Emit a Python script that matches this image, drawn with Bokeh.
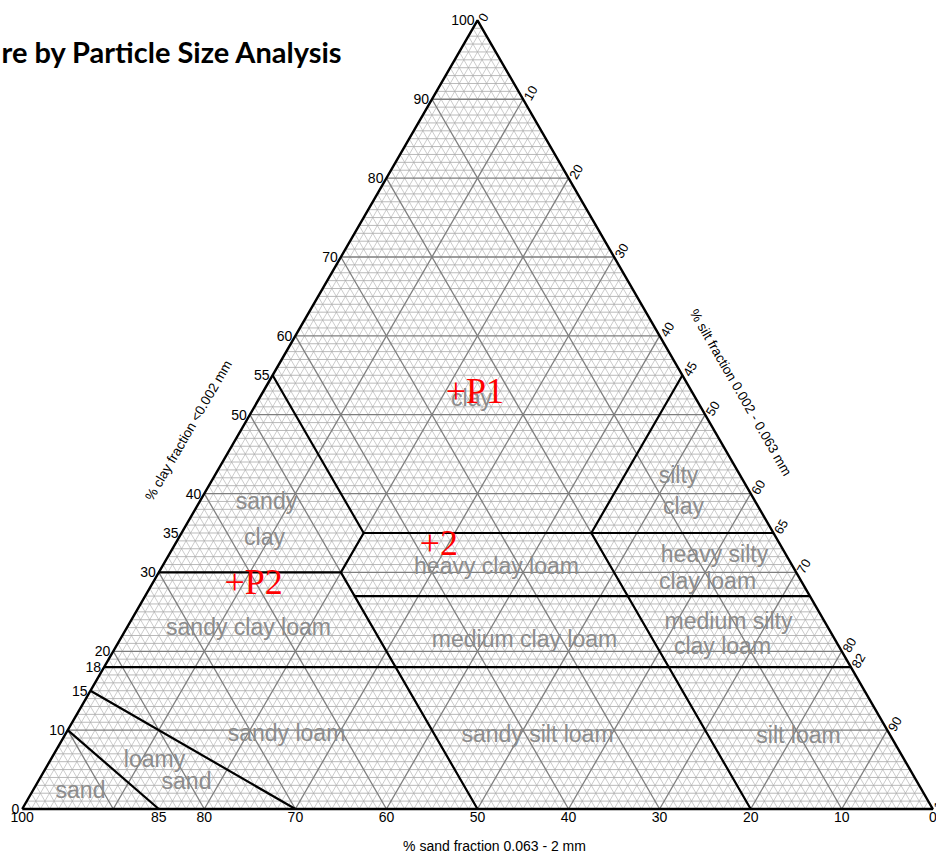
import math
from bokeh.plotting import figure
from bokeh.models import Range1d
from bokeh.core.properties import value
from bokeh.embed import file_html
from bokeh.resources import INLINE

# ---------------- data ----------------
clay_ticks = [0, 10, 15, 18, 20, 30, 35, 40, 50, 55, 60, 70, 80, 90, 100]
silt_ticks = [0, 10, 20, 30, 40, 45, 50, 60, 65, 70, 80, 82, 90, 100]
sand_ticks = [100, 85, 80, 70, 60, 50, 40, 30, 20, 10, 0]

# class boundaries, vertices as (sand, silt, clay) percentages
b_sand_loamysand = [(90, 0, 10), (85, 15, 0)]
b_loamysand_sandyloam = [(85, 0, 15), (70, 30, 0)]
b_clay18 = [(82, 0, 18), (0, 82, 18)]
b_clay30 = [(70, 0, 30), (50, 20, 30)]
b_sand50_45 = [(50, 50, 0), (50, 20, 30), (45, 20, 35), (45, 0, 55)]
b_clay27 = [(50, 23, 27), (0, 73, 27)]
b_clay35 = [(45, 20, 35), (0, 65, 35)]
b_sand20_silt45 = [(20, 80, 0), (20, 45, 35), (0, 45, 55)]
boundaries = [b_sand_loamysand, b_loamysand_sandyloam, b_clay18, b_clay30,
              b_sand50_45, b_clay27, b_clay35, b_sand20_silt45]

class_names = ["clay", "silty", "clay", "sandy", "clay", "heavy clay loam",
               "heavy silty", "clay loam", "sandy clay loam", "medium clay loam",
               "medium silty", "clay loam", "sandy loam", "sandy silt loam",
               "silt loam", "loamy", "sand", "sand"]

sample_names = ["P1", "2", "P2"]
sample_sand = [26.0, 38.5, 62.4]
sample_silt = [21.0, 27.8, 8.8]
sample_clay = [53.0, 33.7, 28.8]

# ---------------- geometry ----------------
S = 9.106      # px per percent
X0 = 21.7      # px of sand=100 corner
Y0 = 808.5     # px of base line
H = math.sqrt(3) / 2
OX, OY = 0, 0  # page position of the figure's top-left corner


def tern(sand, silt, clay):
    return silt + clay / 2.0, clay * H


def px2x(px):
    return (px - X0) / S


def px2y(py):
    return (Y0 - py) / S


W, HT = 936, 853
p = figure(width=W, height=HT, output_backend="svg", toolbar_location=None,
           x_range=Range1d(px2x(OX), px2x(OX + W)), y_range=Range1d(px2y(OY + HT), px2y(OY)),
           min_border=0)
p.axis.visible = False
p.xgrid.visible = False
p.ygrid.visible = False
p.outline_line_color = None
p.background_fill_color = "white"

# ---------------- grid ----------------
fine_h_x, fine_h_y, fine_d_x, fine_d_y = [], [], [], []
maj_x, maj_y = [], []
for k in range(1, 100):
    a = tern(100 - k, 0, k); b = tern(0, 100 - k, k)        # constant clay
    c = tern(k, 100 - k, 0); d = tern(k, 0, 100 - k)        # constant sand
    e = tern(100 - k, k, 0); f = tern(0, k, 100 - k)        # constant silt
    if k % 10 == 0:
        for (u, v) in ((a, b), (c, d), (e, f)):
            maj_x.append([u[0], v[0]]); maj_y.append([u[1], v[1]])
    else:
        fine_h_x.append([a[0], b[0]]); fine_h_y.append([a[1], b[1]])
        for (u, v) in ((c, d), (e, f)):
            fine_d_x.append([u[0], v[0]]); fine_d_y.append([u[1], v[1]])

p.multi_line(fine_d_x, fine_d_y, line_color="#b4b4b4", line_width=0.7)
p.multi_line(fine_h_x, fine_h_y, line_color="#a8a8a8", line_width=0.8)
p.multi_line(maj_x, maj_y, line_color="#7e7e7e", line_width=1.3)

# ---------------- class boundaries ----------------
bx, by = [], []
for poly in boundaries:
    pts = [tern(*v) for v in poly]
    bx.append([q[0] for q in pts]); by.append([q[1] for q in pts])
p.multi_line(bx, by, line_color="black", line_width=2.2)

tri = [tern(100, 0, 0), tern(0, 100, 0), tern(0, 0, 100), tern(100, 0, 0)]
p.line([q[0] for q in tri], [q[1] for q in tri], line_color="black", line_width=2.4)

# ---------------- tick labels ----------------
font = value("Liberation Sans")
lx = [tern(100 - c, 0, c)[0] for c in clay_ticks]
ly = [tern(100 - c, 0, c)[1] for c in clay_ticks]
p.text(lx, ly, text=[str(c) for c in clay_ticks], text_align="right", text_baseline="middle",
       x_offset=-3, text_font=font, text_font_size="14px", text_color="black")

rx = [tern(0, s, 100 - s)[0] for s in silt_ticks]
ry = [tern(0, s, 100 - s)[1] for s in silt_ticks]
p.text(rx, ry, text=[str(s) for s in silt_ticks], text_align="left", text_baseline="middle",
       angle=math.pi / 3, x_offset=4, y_offset=0, text_font=font, text_font_size="13px",
       text_color="black")

sx = [tern(s, 100 - s, 0)[0] for s in sand_ticks]
sy = [tern(s, 100 - s, 0)[1] for s in sand_ticks]
p.text(sx, sy, text=[str(s) for s in sand_ticks], text_align="center", text_baseline="top",
       y_offset=3, text_font=font, text_font_size="14px", text_color="black")

# ---------------- axis titles ----------------
p.text([px2x(494)], [px2y(845)], text=["% sand fraction 0.063 - 2 mm"], text_align="center",
       text_baseline="middle", text_font=font, text_font_size="14px", text_color="black")
p.text([px2x(188)], [px2y(430)], text=["% clay fraction <0.002 mm"], text_align="center",
       text_baseline="middle", angle=math.pi / 3, text_font=font, text_font_size="13.5px",
       text_color="black")
p.text([px2x(740)], [px2y(392)], text=["% silt fraction 0.002 - 0.063 mm"], text_align="center",
       text_baseline="middle", angle=-math.pi / 3, text_font=font, text_font_size="13.5px",
       text_color="black")

# ---------------- class labels ----------------
label_px = [(471, 397), (678, 474), (683, 505), (266, 500), (264, 536), (496, 565),
            (714, 553), (707, 580), (248, 626), (524, 638), (728, 620), (722, 645),
            (286, 732), (537, 733), (798, 734), (154, 758), (186, 780), (80, 789)]
p.text([px2x(a) for a, b in label_px], [px2y(b) for a, b in label_px], text=class_names,
       text_align="center", text_baseline="middle", text_font=font, text_font_size="23px",
       text_color="#8c8c8c")

# ---------------- samples ----------------
smx = [tern(a, b, c)[0] for a, b, c in zip(sample_sand, sample_silt, sample_clay)]
smy = [tern(a, b, c)[1] for a, b, c in zip(sample_sand, sample_silt, sample_clay)]
p.text(smx, smy, text=["+" + n for n in sample_names], text_align="left", text_baseline="middle",
       x_offset=-9, text_font=value("Liberation Serif"), text_font_size="36px", text_color="#ff0000")

# ---------------- partial heading ----------------
p.text([px2x(1)], [px2y(51)], text=["re by Particle Size Analysis"], text_align="left",
       text_baseline="alphabetic", text_font=value("Lato"), text_font_style="bold",
       text_font_size="29px", text_color="black")

open("out.html", "w").write(file_html(p, INLINE))
